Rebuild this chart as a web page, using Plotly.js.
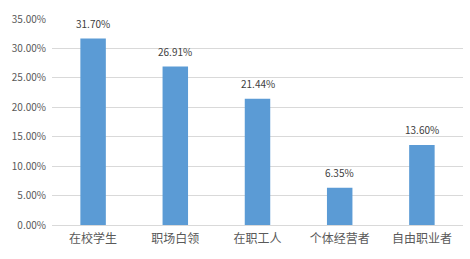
<!DOCTYPE html>
<html>
<head>
<meta charset="utf-8">
<script src="https://cdn.plot.ly/plotly-3.0.1.min.js"></script>
<style>html,body{margin:0;padding:0;background:#fff;}#chart{width:470px;height:259px;}</style>
</head>
<body>
<div id="chart"></div>
<script>
const categories = ['在校学生', '职场白领', '在职工人', '个体经营者', '自由职业者'];
const values = [31.70, 26.91, 21.44, 6.35, 13.60];
const tickValues = [0, 5, 10, 15, 20, 25, 30, 35];
const tickLabels = tickValues.map(v => v.toFixed(2) + '%');
const valueLabels = values.map(v => v.toFixed(2) + '%');

const fontFamily = '"Noto Sans CJK SC", "Noto Sans", sans-serif';

const trace = {
  type: 'bar',
  x: categories,
  y: values,
  marker: {color: '#5B9BD5'},
  hoverinfo: 'none'
};

const annotations = categories.map((c, i) => ({
  x: c, y: values[i], text: valueLabels[i],
  showarrow: false, xref: 'x', yref: 'y',
  yanchor: 'middle', yshift: 15,
  font: {family: fontFamily, size: 10, color: '#404040'}
}));

const layout = {
  width: 470, height: 259,
  margin: {l: 52, r: 7, t: 19, b: 34},
  paper_bgcolor: '#fff', plot_bgcolor: '#fff',
  bargap: 0.69,
  showlegend: false,
  font: {family: fontFamily, color: '#595959'},
  xaxis: {
    type: 'category',
    showgrid: false,
    showline: true, linecolor: '#D9D9D9', linewidth: 1,
    ticks: '',
    ticklabelstandoff: 3,
    tickfont: {family: fontFamily, size: 12, color: '#595959'},
    fixedrange: true
  },
  yaxis: {
    range: [0, 35],
    tickvals: tickValues,
    ticktext: tickLabels,
    showgrid: true, gridcolor: '#D9D9D9', gridwidth: 1,
    zeroline: false,
    showline: false,
    ticks: '',
    ticklabelstandoff: 5,
    tickfont: {family: fontFamily, size: 10, color: '#595959'},
    fixedrange: true
  },
  annotations: annotations
};

Plotly.newPlot('chart', [trace], layout, {displayModeBar: false, staticPlot: true});
</script>
</body>
</html>
